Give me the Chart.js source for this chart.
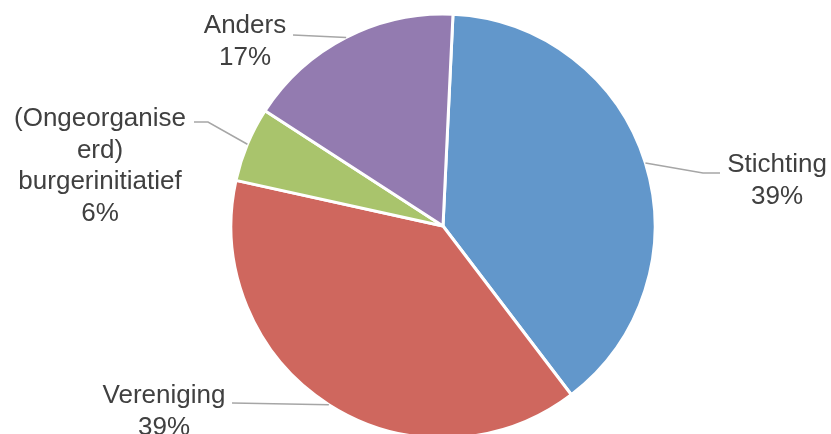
<!DOCTYPE html>
<html>
<head>
<meta charset="utf-8">
<script src="https://cdn.jsdelivr.net/npm/chart.js@4/dist/chart.umd.min.js"></script>
<style>
  html, body { margin: 0; padding: 0; background: #ffffff; }
  #wrap { width: 831px; height: 434px; position: relative; }
</style>
</head>
<body>
<div id="wrap"><canvas id="c" width="831" height="434"></canvas></div>
<script>
// ---- data ----
const categories = ["Stichting", "Vereniging", "(Ongeorganiseerd) burgerinitiatief", "Anders"];
const labelLines = [["Stichting"], ["Vereniging"], ["(Ongeorganise", "erd)", "burgerinitiatief"], ["Anders"]];
const shares = [38.9, 38.8, 5.7, 16.6];
const colors = ["#6297cb", "#cf675e", "#a9c46c", "#937bb0"];

// ---- label placement (annotation layout) ----
const labelLayout = [
  { cx: 777, y0: 172, knees: [[703, 173], [720, 173]] },
  { cx: 164, y0: 403, knees: [[232, 403]] },
  { cx: 100, y0: 126, knees: [[208, 122], [194, 122]] },
  { cx: 245, y0: 33,  knees: [[293, 35]] }
];
const lineH = 31.5;

const labelPlugin = {
  id: 'pieLabels',
  afterDatasetsDraw(chart) {
    const ctx = chart.ctx;
    const meta = chart.getDatasetMeta(0);
    const data = chart.data.datasets[0].data;
    const total = data.reduce((a, b) => a + b, 0);
    ctx.save();
    meta.data.forEach((arc, i) => {
      const p = arc.getProps(['x', 'y', 'startAngle', 'endAngle', 'outerRadius'], true);
      const mid = (p.startAngle + p.endAngle) / 2;
      const ex = p.x + Math.cos(mid) * p.outerRadius;
      const ey = p.y + Math.sin(mid) * p.outerRadius;
      const L = labelLayout[i];
      ctx.strokeStyle = '#a6a6a6';
      ctx.lineWidth = 1.5;
      ctx.beginPath();
      ctx.moveTo(ex, ey);
      L.knees.forEach(k => ctx.lineTo(k[0], k[1]));
      ctx.stroke();
      const lines = labelLines[i].concat([Math.round(data[i] / total * 100) + '%']);
      ctx.fillStyle = '#404040';
      ctx.font = '26px "Liberation Sans", Arial, sans-serif';
      ctx.textAlign = 'center';
      ctx.textBaseline = 'alphabetic';
      lines.forEach((t, j) => ctx.fillText(t, L.cx, L.y0 + j * lineH));
    });
    ctx.restore();
  }
};

new Chart(document.getElementById('c'), {
  type: 'pie',
  data: {
    labels: categories,
    datasets: [{
      data: shares,
      backgroundColor: colors,
      borderColor: '#ffffff',
      borderWidth: 3
    }]
  },
  options: {
    responsive: false,
    animation: false,
    rotation: 2.7,
    radius: 212,
    layout: { padding: { left: 55, right: 0, top: 18, bottom: 0 } },
    plugins: {
      legend: { display: false },
      tooltip: { enabled: false }
    }
  },
  plugins: [labelPlugin]
});
</script>
</body>
</html>
